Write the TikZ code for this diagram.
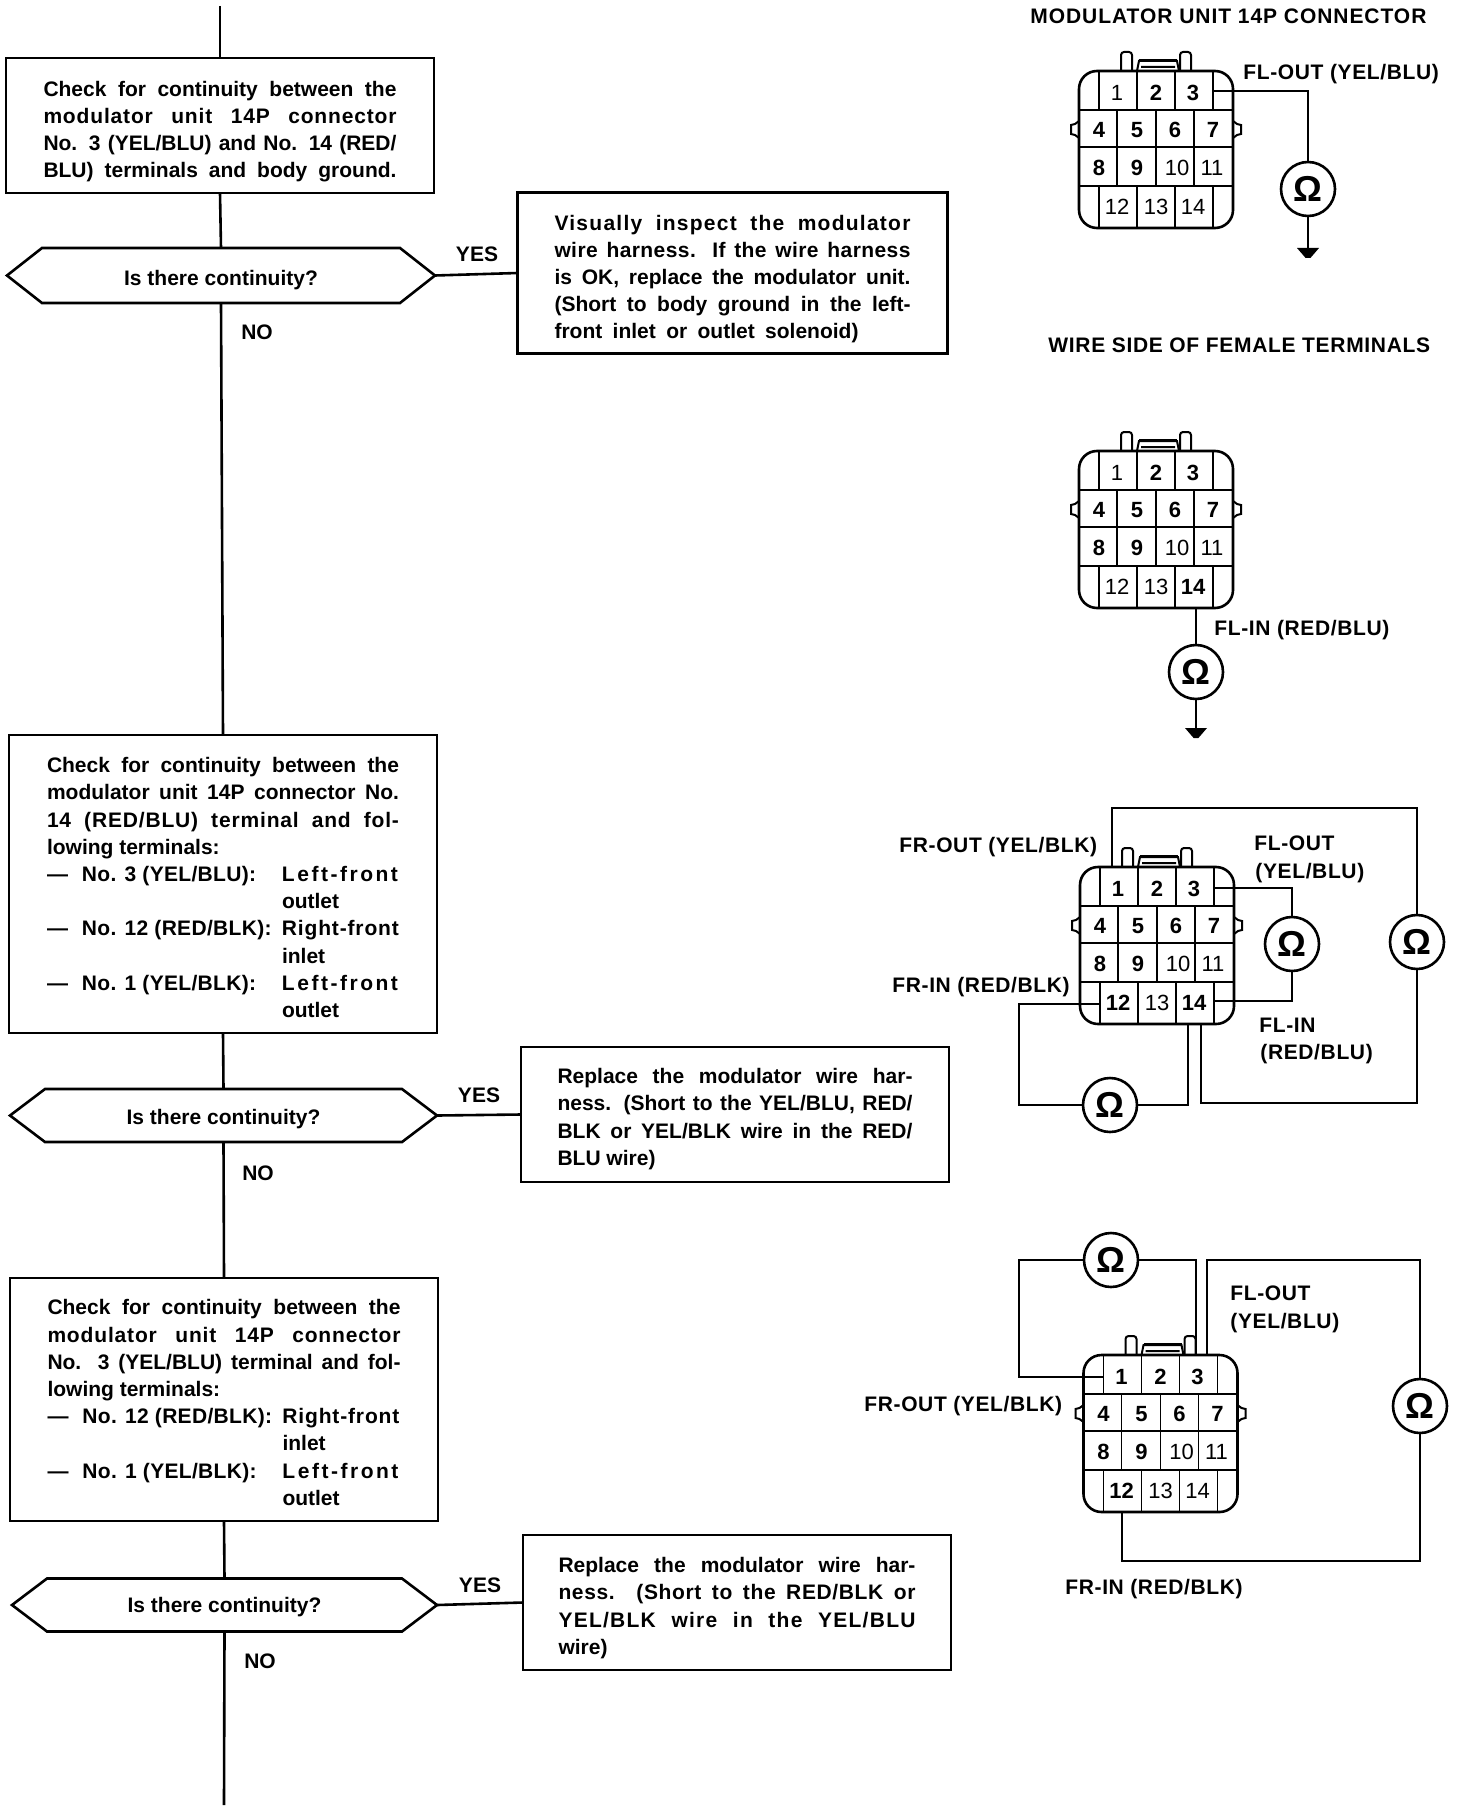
\documentclass[tikz,border=0pt]{standalone}
\usepackage{fontspec}
\setmainfont{Liberation Sans}
\makeatletter
\newcommand\numfont[2]{\edef\tmpa{\noexpand\in@{,#1,}{,#2,2,3,4,5,6,7,8,9,}}\tmpa\ifin@\bfseries\else\mdseries\fi}
\makeatother
\newcommand\jl[3][0]{\hbox to #2{\spaceskip=3pt plus 1fil\relax\ifnum#1>0 \addfontfeature{LetterSpace=#1}\fi #3}}
\newcommand\ls[2]{{\addfontfeature{LetterSpace=#1}#2}}
\newcommand\term[3]{\hbox{\hbox to 17.5pt{—\hss}\hbox to 100pt{\ls{1.5}{#1}\hss}\ls{#2}{#3}}}
\newcommand\cont[1]{\hbox{\kern117.5pt #1}}
\newcommand\para[2]{\vbox{\baselineskip=13.6pt\lineskiplimit=-100pt\kern#1 #2}}
\newcommand\hexpath[1]{\draw[wire] (#1.west) -- ([xshift=17.5pt]#1.north west) -- ([xshift=-17.5pt]#1.north east) -- (#1.east) -- ([xshift=-17.5pt]#1.south east) -- ([xshift=17.5pt]#1.south west) -- cycle;}
\newcommand\groundmark[1]{\fill ([xshift=-5.5pt]#1) -- ([xshift=5.5pt]#1) -- ([xshift=1.2pt,yshift=-5pt]#1) -- ([xshift=-1.2pt,yshift=-5pt]#1) -- cycle;}
\newcommand\connector[4]{%
\begin{scope}[shift={(#1,#2)}]
\draw[wire,rounded corners=9pt] (0,0) rectangle (154,157);
\draw[wire] (0,39) -- (154,39) (0,76) -- (154,76) (0,115) -- (154,115);
\foreach \vx in {20,58,96,134} {\draw[cell] (\vx,0) -- (\vx,39) (\vx,115) -- (\vx,157);}
\foreach \vx in {38,77,115} {\draw[cell] (\vx,39) -- (\vx,115);}
\draw[keyline] (0,50) -- (-4,53) -- (-8,54) -- (-8,63) -- (-4,64) -- (0,67);
\draw[keyline] (154,50) -- (158,53) -- (162,54) -- (162,63) -- (158,64) -- (154,67);
\draw[keyline,rounded corners=1.5pt] (42,0) -- (42,-19) -- (53,-19) -- (53,0);
\draw[keyline,rounded corners=1.5pt] (101,0) -- (101,-19) -- (112,-19) -- (112,0);
\draw[keyline] (58,0) -- (60,-10) -- (98,-10) -- (100,0) (62,-4) -- (96,-4);
\draw[wire] (60,-11) -- (98,-11);
\foreach \nn/\cx/\cy in {1/38/22,2/77/22,3/114/22,4/20/59,5/58/59,6/96/59,7/134/59,8/20/97,9/58/97,10/98/97,11/133/97,12/38/136,13/77/136,14/114/136}
  {\node[numlabel] (#3n\nn) at (\cx,\cy) {\numfont{\nn}{#4}\nn};}
\end{scope}}
\tikzset{
  wire/.style={line width=1.3pt,line join=miter},
  cell/.style={line width=.8pt},
  keyline/.style={line width=1pt},
  flowbox/.style={draw,line width=1.4pt,inner sep=0pt,outer sep=0pt,minimum width=214pt,font=\fontsize{10.5}{13.6}\bfseries},
  hexnode/.style={inner sep=0pt,outer sep=0pt,minimum height=26.5pt,font=\fontsize{10.5}{13.6}\bfseries},
  answer/.style={inner sep=0pt,anchor=base,font=\fontsize{10.5}{13}\bfseries},
  caption/.style={inner sep=0pt,anchor=base west,font=\fontsize{10.5}{13}\bfseries\addfontfeature{LetterSpace=3}},
  numlabel/.style={inner sep=0pt,font=\fontsize{11}{13}\selectfont},
  meter/.style={draw,circle,line width=1.3pt,minimum size=27pt,inner sep=0pt,outer sep=0pt,font=\fontsize{18}{18}\bfseries}
}
\begin{document}
\begin{tikzpicture}[x=0.5pt,y=-0.5pt]
\fill[white] (0,0) rectangle (1472,1808);
\path[use as bounding box] (0,0) rectangle (1472,1808);
% flow chart
\coordinate (start) at (220,6);
\node[flowbox,minimum height=67.5pt] (b1) at (220,125.5) {\para{6pt}{%
\jl{176.5pt}{Check for continuity between the}%
\jl[4]{176.5pt}{modulator unit 14P connector}%
\jl{176.5pt}{No. 3 (YEL/BLU) and No. 14 (RED/}%
\jl{176.5pt}{BLU) terminals and body ground.}}};
\node[hexnode,minimum width=214pt,minimum height=27.5pt] (h1) at (221,275.5) {\para{5pt}{\hbox{Is there continuity?}}};
\node[flowbox,minimum height=149pt] (b2) at (223,884) {\para{3.5pt}{%
\jl{176pt}{Check for continuity between the}%
\jl{176pt}{modulator unit 14P connector No.}%
\jl[4]{176pt}{14 (RED/BLU) terminal and fol-}%
\hbox to 176pt{lowing terminals:\hss}%
\term{No. 3 (YEL/BLU):}{12}{Left-front}%
\cont{outlet}%
\term{No. 12 (RED/BLK):}{4}{Right-front}%
\cont{inlet}%
\term{No. 1 (YEL/BLK):}{12}{Left-front}%
\cont{outlet}}};
\node[hexnode,minimum width=213.5pt] (h2) at (223.5,1115.5) {\para{3.5pt}{\hbox{Is there continuity?}}};
\node[flowbox,minimum height=121.5pt] (b3) at (224,1399.5) {\para{3pt}{%
\jl{176.5pt}{Check for continuity between the}%
\jl[4]{176.5pt}{modulator unit 14P connector}%
\jl{176.5pt}{No. 3 (YEL/BLU) terminal and fol-}%
\hbox to 176.5pt{lowing terminals:\hss}%
\term{No. 12 (RED/BLK):}{4}{Right-front}%
\cont{inlet}%
\term{No. 1 (YEL/BLK):}{12}{Left-front}%
\cont{outlet}}};
\node[hexnode,minimum width=212.5pt] (h3) at (224.5,1605) {\para{2.5pt}{\hbox{Is there continuity?}}};
\coordinate (finish) at (224,1805);
\node[flowbox,minimum width=215pt,minimum height=80.5pt] (v1) at (732.5,273) {\para{6pt}{%
\jl[6]{178pt}{Visually inspect the modulator}%
\jl[2]{178pt}{wire harness. If the wire harness}%
\jl{178pt}{is OK, replace the modulator unit.}%
\jl{178pt}{(Short to body ground in the left-}%
\jl{152pt}{front inlet or outlet solenoid)}}};
\node[flowbox,minimum height=67.5pt] (r2) at (735,1114.5) {\para{4.5pt}{%
\jl{177.5pt}{Replace the modulator wire har-}%
\jl{177.5pt}{ness. (Short to the YEL/BLU, RED/}%
\jl{177.5pt}{BLK or YEL/BLK wire in the RED/}%
\hbox to 177.5pt{BLU wire)\hss}}};
\node[flowbox,minimum height=67.5pt] (r3) at (737,1602.5) {\para{5.5pt}{%
\jl{178.5pt}{Replace the modulator wire har-}%
\jl[3]{178.5pt}{ness. (Short to the RED/BLK or}%
\jl[6]{178.5pt}{YEL/BLK wire in the YEL/BLU}%
\hbox to 178.5pt{wire)\hss}}};
\hexpath{h1}\hexpath{h2}\hexpath{h3}
\draw[wire] (start) -- (b1.north);
\draw[wire] (b1.south) -- (h1.north);
\draw[wire] (h1.south) -- (b2.north);
\draw[wire] (b2.south) -- (h2.north);
\draw[wire] (h2.south) -- (b3.north);
\draw[wire] (b3.south) -- (h3.north);
\draw[wire] (h3.south) -- (finish);
\draw[wire] (h1.east) -- (v1.west);
\draw[wire] (h2.east) -- (r2.west);
\draw[wire] (h3.east) -- (r3.west);
\node[answer] (y1) at (477,262) {YES};
\node[answer] (n1) at (257,340) {NO};
\node[answer] (y2) at (479,1102) {YES};
\node[answer] (n2) at (258,1180) {NO};
\node[answer] (y3) at (480,1592) {YES};
\node[answer] (n3) at (260,1668) {NO};
% connector 1
\node[caption,font=\fontsize{10.5}{13}\bfseries\addfontfeature{LetterSpace=4.5}] (t1) at (1030,24) {MODULATOR UNIT 14P CONNECTOR};
\connector{1079}{71}{c1}{3}
\node[caption] (l1) at (1243,80) {FL-OUT (YEL/BLU)};
\node[meter] (o1) at (1308,189) {Ω};
\coordinate (c1t3) at (1214,91);
\coordinate (g1) at (1308,248);
\draw[wire] (c1t3) -| (o1.north);
\draw[wire] (o1.south) -- (g1);
\groundmark{g1}
% connector 2
\node[caption,font=\fontsize{10.5}{13}\bfseries\addfontfeature{LetterSpace=3.3}] (t2) at (1048,352) {WIRE SIDE OF FEMALE TERMINALS};
\connector{1079}{451}{c2}{14}
\node[caption] (l2) at (1214,635) {FL-IN (RED/BLU)};
\node[meter] (o2) at (1196,672) {Ω};
\coordinate (c2t14) at (1196,607);
\coordinate (g2) at (1196,728);
\draw[wire] (c2t14) -- (o2.north);
\draw[wire] (o2.south) -- (g2);
\groundmark{g2}
% connector 3
\connector{1080}{867}{c3}{1,3,12,14}
\node[caption] (l3a) at (899,852) {FR-OUT (YEL/BLK)};
\node[caption] (l3b) at (1254,850) {FL-OUT};
\node[caption] (l3c) at (1255,878) {(YEL/BLU)};
\node[caption] (l3d) at (892,992) {FR-IN (RED/BLK)};
\node[caption] (l3e) at (1259,1032) {FL-IN};
\node[caption] (l3f) at (1260,1059) {(RED/BLU)};
\node[meter] (o3r) at (1417,942) {Ω};
\node[meter] (o3m) at (1292,944) {Ω};
\node[meter] (o3l) at (1110,1105) {Ω};
\coordinate (c3t1) at (1112,867);
\coordinate (c3top) at (1417,808);
\coordinate (c3br) at (1417,1103);
\coordinate (c3t14b) at (1201,1023);
\coordinate (c3t14a) at (1188,1023);
\coordinate (c3t12) at (1099,1004);
\coordinate (c3lc) at (1019,1004);
\coordinate (c3t3) at (1213,888);
\coordinate (c3t14r) at (1215,1001);
\draw[wire] (c3t1) |- (c3top) -- (o3r.north);
\draw[wire] (o3r.south) -- (c3br) -| (c3t14b);
\draw[wire] (c3t14a) |- (o3l.east);
\draw[wire] (c3t12) -- (c3lc) |- (o3l.west);
\draw[wire] (c3t3) -| (o3m.north);
\draw[wire] (c3t14r) -| (o3m.south);
% connector 4
\connector{1083.5}{1355}{c4}{1,3,12}
\node[caption] (l4a) at (1230,1300) {FL-OUT};
\node[caption] (l4b) at (1230,1328) {(YEL/BLU)};
\node[caption] (l4c) at (864,1411) {FR-OUT (YEL/BLK)};
\node[caption] (l4d) at (1065,1594) {FR-IN (RED/BLK)};
\node[meter] (o4t) at (1111,1260) {Ω};
\node[meter] (o4r) at (1420,1406) {Ω};
\coordinate (c4t1) at (1103,1377);
\coordinate (c4lc) at (1019,1377);
\coordinate (c4t3a) at (1196,1355);
\coordinate (c4t3b) at (1207,1355);
\coordinate (c4tr) at (1420,1260);
\coordinate (c4br) at (1420,1561);
\coordinate (c4t12) at (1122,1513);
\draw[wire] (c4t1) -- (c4lc) |- (o4t.west);
\draw[wire] (o4t.east) -| (c4t3a);
\draw[wire] (c4t3b) |- (c4tr) -- (o4r.north);
\draw[wire] (o4r.south) -- (c4br) -| (c4t12);
\end{tikzpicture}
\end{document}
